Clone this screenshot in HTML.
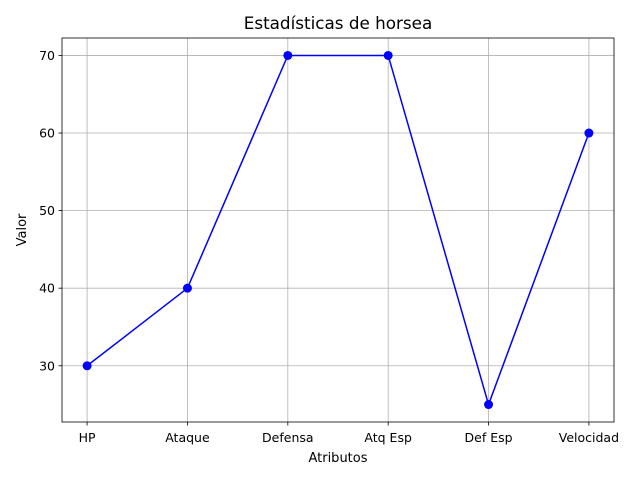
<!DOCTYPE html>
<html><head><meta charset="utf-8"><style>
body{margin:0;background:#fff;}
svg text{font-family:"DejaVu Sans","Liberation Sans",sans-serif;}
</style></head><body>
<svg id="chart" width="640" height="480" xmlns="http://www.w3.org/2000/svg">
<rect width="640" height="480" fill="#fff"/>
<text x="338" y="29" font-size="16.8" text-anchor="middle">Estadísticas de horsea</text>
<g id="grid"></g>
<g id="axes"></g>
<g id="series"></g>
<text x="338" y="462" font-size="13" text-anchor="middle">Atributos</text>
<text x="26" y="230" font-size="13" text-anchor="middle" transform="rotate(-90 26 230)">Valor</text>
</svg>
<script>
const categories=["HP","Ataque","Defensa","Atq Esp","Def Esp","Velocidad"];
const values=[30,40,70,70,25,60];
const yTicks=[30,40,50,60,70];
const L=62,R=614,T=38,B=422;
const vmin=Math.min(...values),vmax=Math.max(...values),pad=(vmax-vmin)*0.05;
const y0=vmin-pad,y1=vmax+pad;
const n=categories.length;
const xs=i=>L+(i+0.25)/(n-1+0.5)*(R-L);
const ys=v=>B-(v-y0)/(y1-y0)*(B-T);
const NS="http://www.w3.org/2000/svg";
function mk(tag,attrs,parent,text){const e=document.createElementNS(NS,tag);for(const k in attrs)e.setAttribute(k,attrs[k]);if(text!==undefined)e.textContent=text;parent.appendChild(e);return e;}
const grid=document.getElementById('grid'),axes=document.getElementById('axes'),ser=document.getElementById('series');
categories.forEach((c,i)=>{
 const x=xs(i);
 const g=mk('line',{x1:x,x2:x,y1:T,y2:B,stroke:'#b0b0b0','stroke-width':0.8},grid);
 
 
 const t=mk('line',{x1:x,x2:x,y1:B,y2:B+3.5,stroke:'#000','stroke-width':0.8},axes);
 
 
 const l=mk('text',{x:x,y:B+20,'font-size':12.5,'text-anchor':'middle'},axes,c);
 
 
});
yTicks.forEach(v=>{
 const y=ys(v);
 const g=mk('line',{x1:L,x2:R,y1:y,y2:y,stroke:'#b0b0b0','stroke-width':0.8},grid);
 
 
 const t=mk('line',{x1:L-3.5,x2:L,y1:y,y2:y,stroke:'#000','stroke-width':0.8},axes);
 
 
 const l=mk('text',{x:L-7,y:y+4.5,'font-size':12.5,'text-anchor':'end'},axes,String(v));
 
 
});
const frame=mk('rect',{x:L,y:T,width:R-L,height:B-T,fill:'none',stroke:'#000','stroke-width':0.8},axes);


const pts=values.map((v,i)=>xs(i)+','+ys(v)).join(' ');
const line=mk('polyline',{points:pts,fill:'none',stroke:'#0000ff','stroke-width':1.5},ser);


values.forEach((v,i)=>{
 const c=mk('circle',{cx:xs(i),cy:ys(v),r:4.5,fill:'#0000ff'},ser);
 
 
});
</script>
</body></html>
